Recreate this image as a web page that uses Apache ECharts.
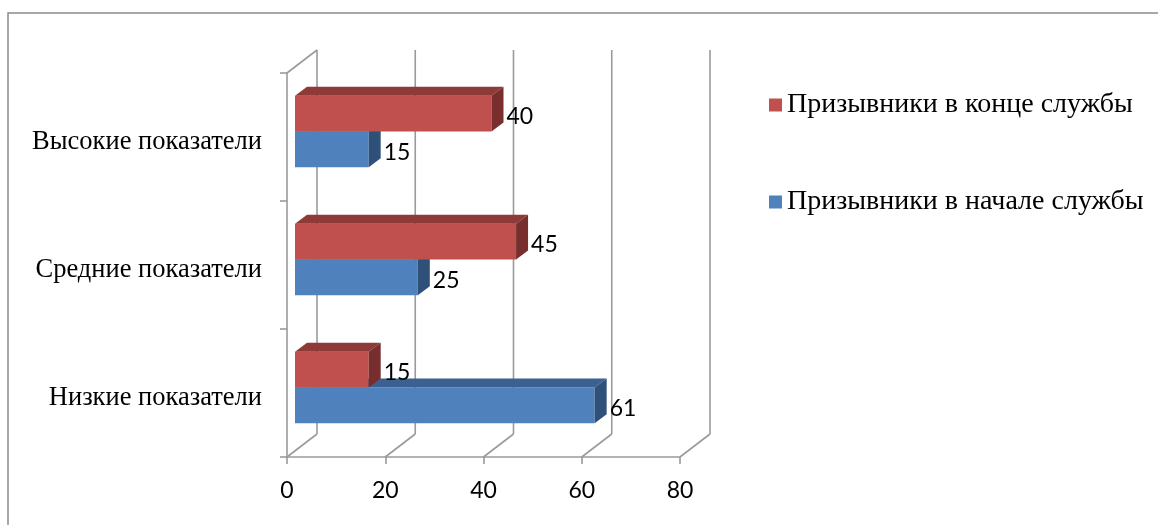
<!DOCTYPE html>
<html>
<head>
<meta charset="utf-8">
<script src="https://cdn.jsdelivr.net/npm/echarts@6/dist/echarts.min.js"></script>
<style>
html,body{margin:0;padding:0;background:#fff;}
#chart{width:1158px;height:525px;}
</style>
</head>
<body>
<div id="chart"></div>
<script>
const categories = ['Низкие показатели', 'Средние показатели', 'Высокие показатели'];
const startName = 'Призывники в начале службы';
const endName = 'Призывники в конце службы';
const startValues = [61, 25, 15];
const endValues = [15, 45, 40];
const xTicks = [0, 20, 40, 60, 80];

const DEPTH_X = 30, DEPTH_Y = -23;
const BAR_DX = 8, BAR_DY = -5.5, SIDE_DX = 12, SIDE_DY = -9;
const LINE_COLOR = '#9a9a9a';

function makeBarRender(front, top, side, slot) {
  return function (params, api) {
    const val = api.value(0);
    const cat = api.value(1);
    const p0 = api.coord([0, cat]);
    const p1 = api.coord([val, cat]);
    const band = api.size([0, 1])[1];
    const bh = band * 0.28;
    const x0 = p0[0] + BAR_DX;
    const x1 = p1[0] + BAR_DX;
    const cy = p0[1] + BAR_DY;
    const yt = slot === 0 ? cy : cy - bh;
    const yb = yt + bh;
    return {
      type: 'group',
      children: [
        { type: 'rect', shape: { x: x0, y: yt, width: x1 - x0, height: bh }, style: { fill: front } },
        { type: 'polygon', shape: { points: [[x0, yt], [x1, yt], [x1 + SIDE_DX, yt + SIDE_DY], [x0 + SIDE_DX, yt + SIDE_DY]] }, style: { fill: top } },
        { type: 'polygon', shape: { points: [[x1, yt], [x1 + SIDE_DX, yt + SIDE_DY], [x1 + SIDE_DX, yb + SIDE_DY], [x1, yb]] }, style: { fill: side } },
        { type: 'text', style: { text: String(val), x: x1 + SIDE_DX + 3, y: (yt + yb) / 2 + 3, verticalAlign: 'middle', align: 'left', fill: '#000', fontSize: 23, fontFamily: 'Lato' } }
      ]
    };
  };
}

function frameRender(params, api) {
  const t = api.value(0);
  const cs = params.coordSys;
  const p = api.coord([t, 0]);
  const x = p[0];
  const topY = cs.y, bottomY = cs.y + cs.height;
  const ls = { stroke: LINE_COLOR, lineWidth: 1.6 };
  const children = [
    { type: 'line', shape: { x1: x + DEPTH_X, y1: topY + DEPTH_Y, x2: x + DEPTH_X, y2: bottomY + DEPTH_Y }, style: ls },
    { type: 'line', shape: { x1: x, y1: bottomY, x2: x + DEPTH_X, y2: bottomY + DEPTH_Y }, style: ls }
  ];
  if (t === xTicks[0]) {
    children.push({ type: 'line', shape: { x1: x, y1: topY, x2: x + DEPTH_X, y2: topY + DEPTH_Y }, style: ls });
  }
  return { type: 'group', children: children };
}

const chart = echarts.init(document.getElementById('chart'), null, { renderer: 'canvas' });
chart.setOption({
  backgroundColor: '#fff',
  animation: false,
  graphic: [
    { type: 'rect', shape: { x: 8, y: 13, width: 1300, height: 700 }, style: { fill: 'none', stroke: '#8a8a8a', lineWidth: 1.5 }, z: -10 }
  ],
  legend: {
    orient: 'vertical',
    left: 764,
    top: 86,
    itemWidth: 13,
    itemHeight: 13,
    itemGap: 69,
    icon: 'rect',
    data: [endName, startName],
    textStyle: { fontFamily: 'Liberation Serif', fontSize: 28, color: '#000', lineHeight: 28 }
  },
  grid: { left: 287, top: 73, width: 393, height: 384 },
  xAxis: {
    type: 'value',
    min: 0, max: 80, interval: 20,
    axisLine: { show: true, lineStyle: { color: LINE_COLOR, width: 1.6 } },
    axisTick: { show: true, length: 7, lineStyle: { color: LINE_COLOR, width: 1.6 } },
    splitLine: { show: false },
    axisLabel: { color: '#000', fontSize: 23, fontFamily: 'Lato', margin: 22 }
  },
  yAxis: {
    type: 'category',
    data: categories,
    axisLine: { show: true, lineStyle: { color: LINE_COLOR, width: 1.6 } },
    axisTick: { show: true, length: 7, lineStyle: { color: LINE_COLOR, width: 1.6 } },
    axisLabel: {
      margin: 25,
      formatter: function (v) { return '{c|' + v + '}'; },
      rich: { c: { color: '#000', fontSize: 26.5, fontFamily: 'Liberation Serif', lineHeight: 30, padding: [11, 0, 0, 0] } }
    }
  },
  series: [
    {
      type: 'custom', name: 'frame', z: 1, silent: true,
      renderItem: frameRender,
      data: xTicks.map(t => [t, 0]),
      encode: { x: 0, y: 1 }
    },
    {
      type: 'custom', name: startName, z: 3,
      itemStyle: { color: '#4F81BD' },
      renderItem: makeBarRender('#4F81BD', '#3C6190', '#2F5079', 0),
      data: startValues.map((v, i) => [v, i]),
      encode: { x: 0, y: 1 }
    },
    {
      type: 'custom', name: endName, z: 4,
      itemStyle: { color: '#C0504D' },
      renderItem: makeBarRender('#C0504D', '#8E3A38', '#772E2C', 1),
      data: endValues.map((v, i) => [v, i]),
      encode: { x: 0, y: 1 }
    }
  ]
});
</script>
</body>
</html>
